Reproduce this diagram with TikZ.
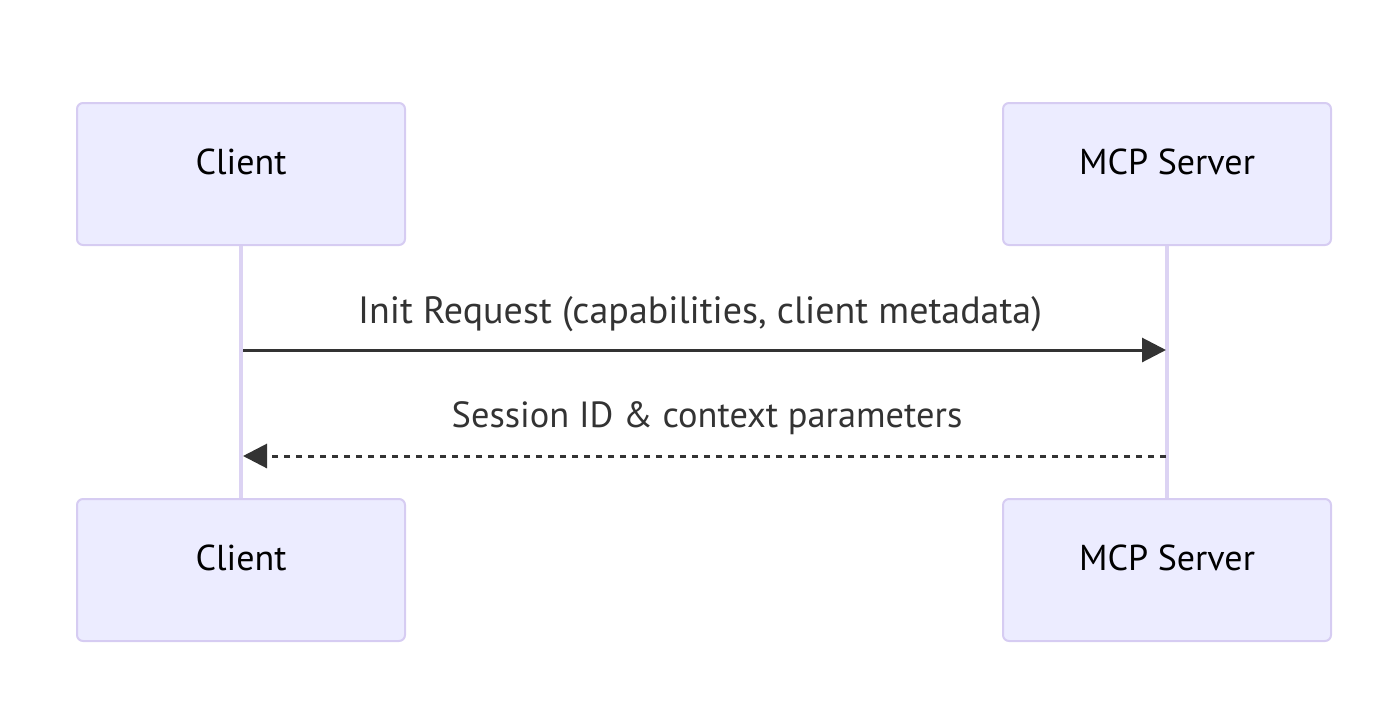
\documentclass[tikz,border=0pt]{standalone}
\usepackage{fontspec}
\setmainfont{PT Sans}
\usepackage{xcolor}
\usepackage{tikz}
\usetikzlibrary{arrows.meta, positioning}
\definecolor{actorfill}{HTML}{ECECFF}
\definecolor{actorline}{HTML}{D6CCF2}
\definecolor{lifeline}{HTML}{DCD3F3}
\definecolor{msgline}{HTML}{333333}
\tikzstyle{actor}    = [rectangle, rounded corners=3pt, minimum width=164pt, minimum height=71pt, draw=actorline, line width=1pt, fill=actorfill]
\tikzstyle{actortext}= [font=\fontsize{18}{21}\selectfont]
\tikzstyle{life}     = [draw=lifeline, line width=2pt]
\tikzstyle{msg}      = [line width=1.5pt, draw=msgline, -{Triangle[length=12pt, width=12pt]}]
\tikzstyle{reply}    = [msg, dash pattern=on 3pt off 3pt]
\tikzstyle{msglabel} = [text=msgline, font=\fontsize{19}{22}\selectfont]

\begin{document}
\begin{tikzpicture}[x=0.5pt, y=-0.5pt]
    \useasboundingbox (0,0) rectangle (1400,707);

    \node (client)    [actor] at (241,174)  {};
    \node (server)    [actor] at (1167,174) {};
    \node (clientend) [actor] at (241,570)  {};
    \node (serverend) [actor] at (1167,570) {};

    \node (clientname)    [actortext] at ([yshift=6pt]client.center)    {Client};
    \node (servername)    [actortext] at ([yshift=6pt]server.center)    {MCP Server};
    \node (clientendname) [actortext] at ([yshift=6pt]clientend.center) {Client};
    \node (serverendname) [actortext] at ([yshift=6pt]serverend.center) {MCP Server};

    \draw [life] (client) -- (clientend);
    \draw [life] (server) -- (serverend);

    \coordinate (reqa) at (243,350);
    \coordinate (reqb) at (1166,350);
    \coordinate (resa) at (1166,456);
    \coordinate (resb) at (243,456);

    \draw [msg]   (reqa) -- (reqb);
    \draw [reply] (resa) -- (resb);

    \node (reqlabel) [msglabel] at (700,314) {Init Request (capabilities, client metadata)};
    \node (reslabel) [msglabel, font=\fontsize{18.2}{21}\selectfont] at (707,418) {Session ID \& context parameters};

  \end{tikzpicture}
\end{document}
